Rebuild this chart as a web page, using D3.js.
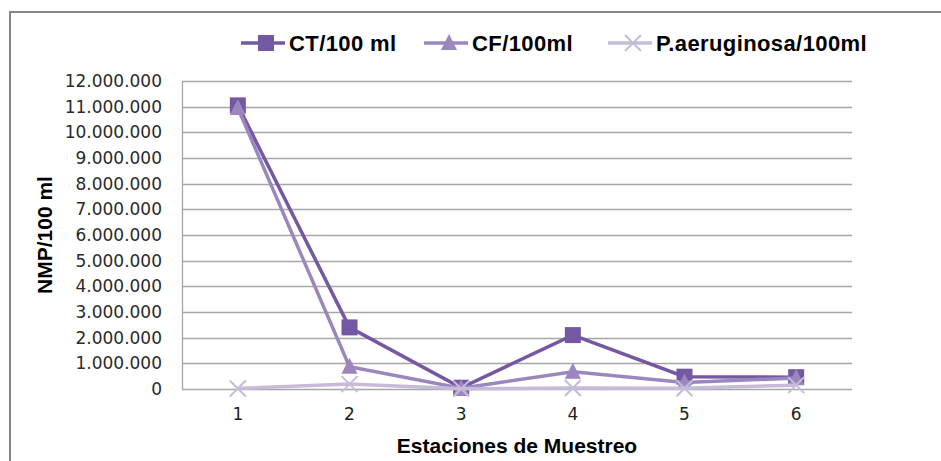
<!DOCTYPE html>
<html>
<head>
<meta charset="utf-8">
<script src="https://cdn.jsdelivr.net/npm/d3@7"></script>
<style>
  body { margin: 0; background: #fff; }
</style>
</head>
<body>
<div class="canvas"></div>
<script>
// stations and series values (NMP/100 ml)
const stations = ['1', '2', '3', '4', '5', '6'];
const ctValues = [11050000, 2400000, 50000, 2100000, 480000, 460000];
const cfValues = [10950000, 870000, 30000, 670000, 250000, 430000];
const paValues = [20000, 190000, 10000, 40000, 30000, 150000];
const yTicks = d3.range(0, 12000001, 1000000);

const seriesNames = ['CT/100 ml', 'CF/100ml', 'P.aeruginosa/100ml'];
const seriesColors = ['#7458A1', '#9B87BE', '#C6BCDA'];
const seriesShapes = ['square', 'triangle', 'cross'];

const svg = d3.select('.canvas')
    .append('svg')
    .attr('width', 941)
    .attr('height', 461)

// outer chart border (only left and top edges fall inside the picture)
svg.append('rect')
    .attr('x', 10).attr('y', 12)
    .attr('width', 1000).attr('height', 600)
    .attr('fill', 'none')
    .attr('stroke', '#868686')
    .attr('stroke-width', 2)

const margin = {top: 81, left: 182};
const graphWidth = 852 - 182;
const graphHeight = 389 - 81;

const graph = svg.append('g')
    .attr('transform', `translate(${margin.left}, ${margin.top})`)

const x = d3.scaleBand()
    .domain(stations)
    .range([0, graphWidth])

const y = d3.scaleLinear()
    .domain([0, 12000000])
    .range([graphHeight, 0])

const fmt = d => d3.format(',')(d).replace(/,/g, '.');

// gridlines
graph.append('g')
    .selectAll('line')
    .data(yTicks)
    .enter()
    .append('line')
    .attr('x1', 0).attr('x2', graphWidth)
    .attr('y1', d => Math.round(y(d)) + 0.5)
    .attr('y2', d => Math.round(y(d)) + 0.5)
    .attr('stroke', '#a6a6a6')
    .attr('stroke-width', 1.3)

// y axis
const yAxisGroup = graph.append('g')
yAxisGroup.call(d3.axisLeft(y).tickValues(yTicks).tickFormat(fmt).tickSize(0).tickPadding(20))
yAxisGroup.select('.domain').attr('stroke', '#a6a6a6').attr('stroke-width', 1.3)
yAxisGroup.selectAll('text')
    .attr('font-family', 'DejaVu Sans')
    .attr('font-size', 17)
    .attr('fill', '#2a2a2a')

// x axis
const xAxisGroup = graph.append('g')
    .attr('transform', `translate(0, ${graphHeight})`)
xAxisGroup.call(d3.axisBottom(x).tickSize(0).tickPadding(19))
xAxisGroup.select('.domain').remove()
xAxisGroup.selectAll('text')
    .attr('font-family', 'DejaVu Sans')
    .attr('font-size', 17)
    .attr('fill', '#222')

// axis titles
svg.append('text')
    .attr('x', 517).attr('y', 453)
    .attr('text-anchor', 'middle')
    .attr('font-family', 'Liberation Sans, Arial')
    .attr('font-weight', 'bold')
    .attr('font-size', 21)
    .text('Estaciones de Muestreo')

svg.append('text')
    .attr('transform', 'translate(52, 235) rotate(-90)')
    .attr('text-anchor', 'middle')
    .attr('font-family', 'Liberation Sans, Arial')
    .attr('font-weight', 'bold')
    .attr('font-size', 21)
    .text('NMP/100 ml')

// marker helper
const drawMarker = (sel, shape, color) => {
    if (shape === 'square') {
        sel.append('rect')
            .attr('x', -8).attr('y', -8)
            .attr('width', 16).attr('height', 16)
            .attr('fill', color)
    } else if (shape === 'triangle') {
        sel.append('path')
            .attr('d', 'M0,-9 L8,7 L-8,7 Z')
            .attr('fill', color)
    } else {
        sel.append('path')
            .attr('d', 'M-8,-8 L8,8 M-8,8 L8,-8')
            .attr('stroke', color)
            .attr('stroke-width', 2)
            .attr('fill', 'none')
    }
}

const line = d3.line()
    .x((d, i) => x(stations[i]) + x.bandwidth() / 2)
    .y(d => y(d))

const allSeries = [ctValues, cfValues, paValues];

allSeries.forEach((values, s) => {
    const g = graph.append('g')
    g.append('path')
        .datum(values)
        .attr('d', line)
        .attr('fill', 'none')
        .attr('stroke', seriesColors[s])
        .attr('stroke-width', 3.5)

    g.selectAll('g.pt')
        .data(values)
        .enter()
        .append('g')
        .attr('class', 'pt')
        .attr('transform', (d, i) => `translate(${x(stations[i]) + x.bandwidth() / 2}, ${y(d)})`)
        .each(function() { drawMarker(d3.select(this), seriesShapes[s], seriesColors[s]) })
})

// legend
const legendX = [241, 424, 608];
const legend = svg.append('g')
    .selectAll('g')
    .data(seriesNames)
    .enter()
    .append('g')
    .attr('transform', (d, i) => `translate(${legendX[i]}, 43)`)

legend.append('line')
    .attr('x1', 0).attr('x2', 44)
    .attr('stroke', (d, i) => seriesColors[i])
    .attr('stroke-width', 3.5)

legend.each(function(d, i) {
    const m = d3.select(this).append('g').attr('transform', 'translate(25, 0)')
    drawMarker(m, seriesShapes[i], seriesColors[i])
})

legend.append('text')
    .attr('x', 48)
    .attr('y', 8)
    .attr('font-family', 'Liberation Sans, Arial')
    .attr('font-weight', 'bold')
    .attr('font-size', 22)
    .attr('letter-spacing', 0.4)
    .text(d => d)
</script>
</body>
</html>
